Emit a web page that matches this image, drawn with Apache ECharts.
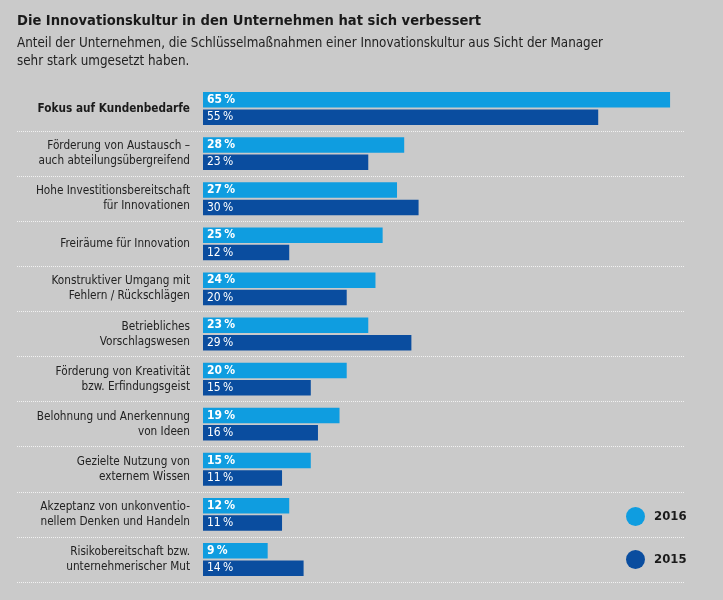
<!DOCTYPE html>
<html>
<head>
<meta charset="utf-8">
<script src="https://cdn.jsdelivr.net/npm/echarts@6/dist/echarts.min.js"></script>
<style>
  html, body { margin: 0; padding: 0; background: #cacaca; }
  #main { width: 723px; height: 600px; }
</style>
</head>
<body>
<div id="main"></div>
<script>
var categories = [
  'Fokus auf Kundenbedarfe',
  'Förderung von Austausch –\nauch abteilungsübergreifend',
  'Hohe Investitionsbereitschaft\nfür Innovationen',
  'Freiräume für Innovation',
  'Konstruktiver Umgang mit\nFehlern / Rückschlägen',
  'Betriebliches\nVorschlagswesen',
  'Förderung von Kreativität\nbzw. Erfindungsgeist',
  'Belohnung und Anerkennung\nvon Ideen',
  'Gezielte Nutzung von\nexternem Wissen',
  'Akzeptanz von unkonventio-\nnellem Denken und Handeln',
  'Risikobereitschaft bzw.\nunternehmerischer Mut'
];
var values2016 = [65, 28, 27, 25, 24, 23, 20, 19, 15, 12, 9];
var values2015 = [55, 23, 30, 12, 20, 29, 15, 16, 11, 11, 14];

var FONT = '"Liberation Sans Narrow", "DejaVu Sans Condensed", "Liberation Sans", sans-serif';

var myChart = echarts.init(document.getElementById('main'));
var option = {
  backgroundColor: '#cacaca',
  textStyle: { fontFamily: FONT },
  //Titel + Untertitel
  title: {
    left: 12,
    top: 9,
    text: 'Die Innovationskultur in den Unternehmen hat sich verbessert',
    subtext: 'Anteil der Unternehmen, die Schlüsselmaßnahmen einer Innovationskultur aus Sicht der Manager\nsehr stark umgesetzt haben.',
    itemGap: 6,
    textStyle: { fontFamily: FONT, fontSize: 14.6, fontWeight: 'bold', color: '#1a1a1a' },
    subtextStyle: { fontFamily: FONT, fontSize: 13.3, color: '#222', lineHeight: 18 }
  },
  legend: {
    orient: 'vertical',
    left: 621,
    top: 502,
    icon: 'circle',
    itemWidth: 19,
    itemHeight: 19,
    itemGap: 24,
    textStyle: { fontFamily: FONT, fontSize: 13, fontWeight: 'bold', color: '#1a1a1a', padding: [0, 0, 0, 4] },
    data: ['2016', '2015']
  },
  grid: [
    { left: 203, top: 86, height: 496, right: 17 },
    // nur für die Trennlinien
    { left: 17, top: 86, height: 496, right: 39 }
  ],
  xAxis: [
    { gridIndex: 0, type: 'value', min: 0, max: 70, show: false },
    { gridIndex: 1, type: 'value', min: 0, max: 1, show: false }
  ],
  yAxis: [
    {
      gridIndex: 0,
      type: 'category',
      inverse: true,
      data: categories,
      axisLine: { show: false },
      axisTick: { show: false },
      splitLine: { show: false },
      axisLabel: {
        margin: 13,
        color: '#222',
        fontSize: 11.7,
        lineHeight: 15,
        fontFamily: FONT,
        formatter: function (v, i) {
          return i === 0 ? '{b|' + v + '}' : v;
        },
        rich: {
          b: { fontFamily: FONT, fontSize: 11.7, fontWeight: 'bold', color: '#1a1a1a' }
        }
      }
    },
    {
      gridIndex: 1,
      type: 'category',
      inverse: true,
      data: categories,
      axisLine: { show: false },
      axisTick: { show: false },
      axisLabel: { show: false },
      splitLine: {
        show: true,
        interval: function (i) { return i > 0; },
        lineStyle: { color: '#f2f2f2', width: 1, type: [1, 1] }
      }
    }
  ],
  series: [
    {
      name: '2016',
      type: 'bar',
      xAxisIndex: 0,
      yAxisIndex: 0,
      data: values2016,
      barWidth: 15.5,
      barGap: '12%',
      itemStyle: { color: '#0f9de0' },
      label: {
        show: true,
        position: 'insideLeft',
        distance: 4,
        formatter: '{c}\u202f%',
        color: '#fff',
        fontSize: 12,
        fontWeight: 'bold',
        fontFamily: FONT
      }
    },
    {
      name: '2015',
      type: 'bar',
      xAxisIndex: 0,
      yAxisIndex: 0,
      data: values2015,
      barWidth: 15.5,
      barGap: '12%',
      itemStyle: { color: '#0a4d9f' },
      label: {
        show: true,
        position: 'insideLeft',
        distance: 4,
        formatter: '{c}\u202f%',
        color: '#fff',
        fontSize: 12,
        fontFamily: FONT
      }
    }
  ]
};
myChart.setOption(option);
</script>
</body>
</html>
